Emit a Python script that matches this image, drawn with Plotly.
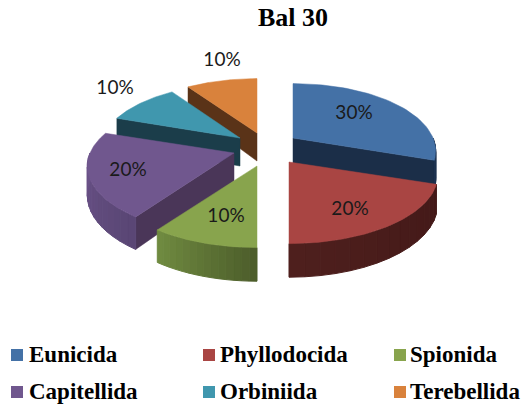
import math
import plotly.graph_objects as go

# ---- data ----
categories = ["Eunicida", "Phyllodocida", "Spionida", "Capitellida", "Orbiniida", "Terebellida"]
values = [30, 20, 10, 20, 10, 10]
title = "Bal 30"

# ---- style ----
top_colors = ["#4471a6", "#a94543", "#88a44d", "#70578e", "#4097ae", "#d9823c"]
cut_colors = ["#1b2e48", "#401a18", "#4e5f2c", "#4a3658", "#1b3d4a", "#5a3318"]
rim_start = ["#1d3250", "#4e1f1d", "#6f8a40", "#6a5288", "#25505f", "#7a4520"]
rim_end = ["#1b2e48", "#431918", "#4d5e2b", "#5a4675", "#25505f", "#7a4520"]
apex = [(293, 138), (289, 162), (257, 166), (234, 153), (240, 138), (257, 133)]
radius_x = [140, 146, 146, 144, 138, 140]
label_pos = [(354, 114), (350, 210), (226, 217), (128, 171), (115, 89), (222, 61)]
swatch_pos = [(17, 355), (209, 355), (400, 355), (17, 392), (209, 392), (400, 392)]
name_pos = [(29, 356), (220, 356), (410, 356), (29, 393), (220, 393), (410, 393)]
draw_order = [5, 4, 3, 2, 0, 1]
RY, PERSP, DEPTH = 68, 0.2, 28

total = sum(values)
edges = [0]
for v in values:
    edges.append(edges[-1] + v / total * 360)


def f(t):
    return 1 - PERSP * math.cos(math.radians(t))


def rim(i, t):
    a = apex[i]
    r = math.radians(t)
    return a[0] + radius_x[i] * math.sin(r) * f(t), a[1] - RY * math.cos(r) * f(t)


def mix(c1, c2, u):
    a = [int(c1[i:i + 2], 16) for i in (1, 3, 5)]
    b = [int(c2[i:i + 2], 16) for i in (1, 3, 5)]
    return "rgb(%d,%d,%d)" % tuple(round(p + (q - p) * u) for p, q in zip(a, b))


def poly(xs, ys, color, width=0.5):
    return go.Scatter(x=xs, y=ys, mode="lines", fill="toself", fillcolor=color,
                      line=dict(color=color, width=width), hoverinfo="skip", showlegend=False)


fig = go.Figure()
for i in draw_order:
    a = apex[i]
    t0, t1 = edges[i], edges[i + 1]
    for t in (t0, t1):
        px, py = rim(i, t)
        faces_front = (t == t1 and 90 < t < 180) or (t == t0 and 180 < t < 300) or (t == t0 and 300 <= t < 360 and i == 5) or (t == t0 and i == 4)
        if faces_front:
            fig.add_trace(poly([a[0], px, px, a[0], a[0]],
                               [a[1], py, py + DEPTH * f(t), a[1] + DEPTH, a[1]], cut_colors[i]))
    lo, hi = max(t0, 90), min(t1, 270)
    if hi > lo:
        n = 14
        for k in range(n):
            ta = lo + (hi - lo) * k / n
            tb = lo + (hi - lo) * (k + 1) / n
            ax, ay = rim(i, ta)
            bx, by = rim(i, tb)
            c = mix(rim_start[i], rim_end[i], 1 - k / (n - 1))
            fig.add_trace(poly([ax, bx, bx, ax, ax],
                               [ay, by, by + DEPTH * f(tb), ay + DEPTH * f(ta), ay], c, 1))
    ts = [t0 + (t1 - t0) * k / 50 for k in range(51)]
    pts = [rim(i, t) for t in ts]
    fig.add_trace(poly([a[0]] + [p[0] for p in pts] + [a[0]],
                       [a[1]] + [p[1] for p in pts] + [a[1]], top_colors[i]))

fig.add_trace(go.Scatter(x=[p[0] for p in label_pos], y=[p[1] for p in label_pos],
                         mode="text", text=[f"{round(v / total * 100)}%" for v in values],
                         textposition="middle center", showlegend=False, hoverinfo="skip",
                         textfont=dict(family="Lato", size=19, color="#1a1a1a")))

# colour key in two rows of three, spaced as in the reference
for i, name in enumerate(categories):
    fig.add_trace(go.Scatter(x=[swatch_pos[i][0]], y=[swatch_pos[i][1]], mode="markers", name=name,
                             marker=dict(symbol="square", size=12, color=top_colors[i]),
                             hoverinfo="name", showlegend=False))
    fig.add_trace(go.Scatter(x=[name_pos[i][0]], y=[name_pos[i][1]], mode="text",
                             text=[f"<b>{name}</b>"], textposition="middle right",
                             textfont=dict(family="Liberation Serif", size=23, color="#000000"),
                             hoverinfo="skip", showlegend=False, cliponaxis=False))

fig.update_layout(
    width=526, height=409, margin=dict(l=0, r=0, t=0, b=0),
    paper_bgcolor="white", plot_bgcolor="white", showlegend=False,
    xaxis=dict(range=[0, 526], visible=False, domain=[0, 1], fixedrange=True),
    yaxis=dict(range=[409, 0], visible=False, domain=[0, 1], fixedrange=True),
    annotations=[dict(text=f"<b>{title}</b>", x=293, y=17, xref="x", yref="y", showarrow=False,
                      font=dict(family="Liberation Serif", size=26, color="#000000"))],
)
fig.write_html("out.html", config={"displayModeBar": False},
               post_script="document.body.style.margin='0';")
